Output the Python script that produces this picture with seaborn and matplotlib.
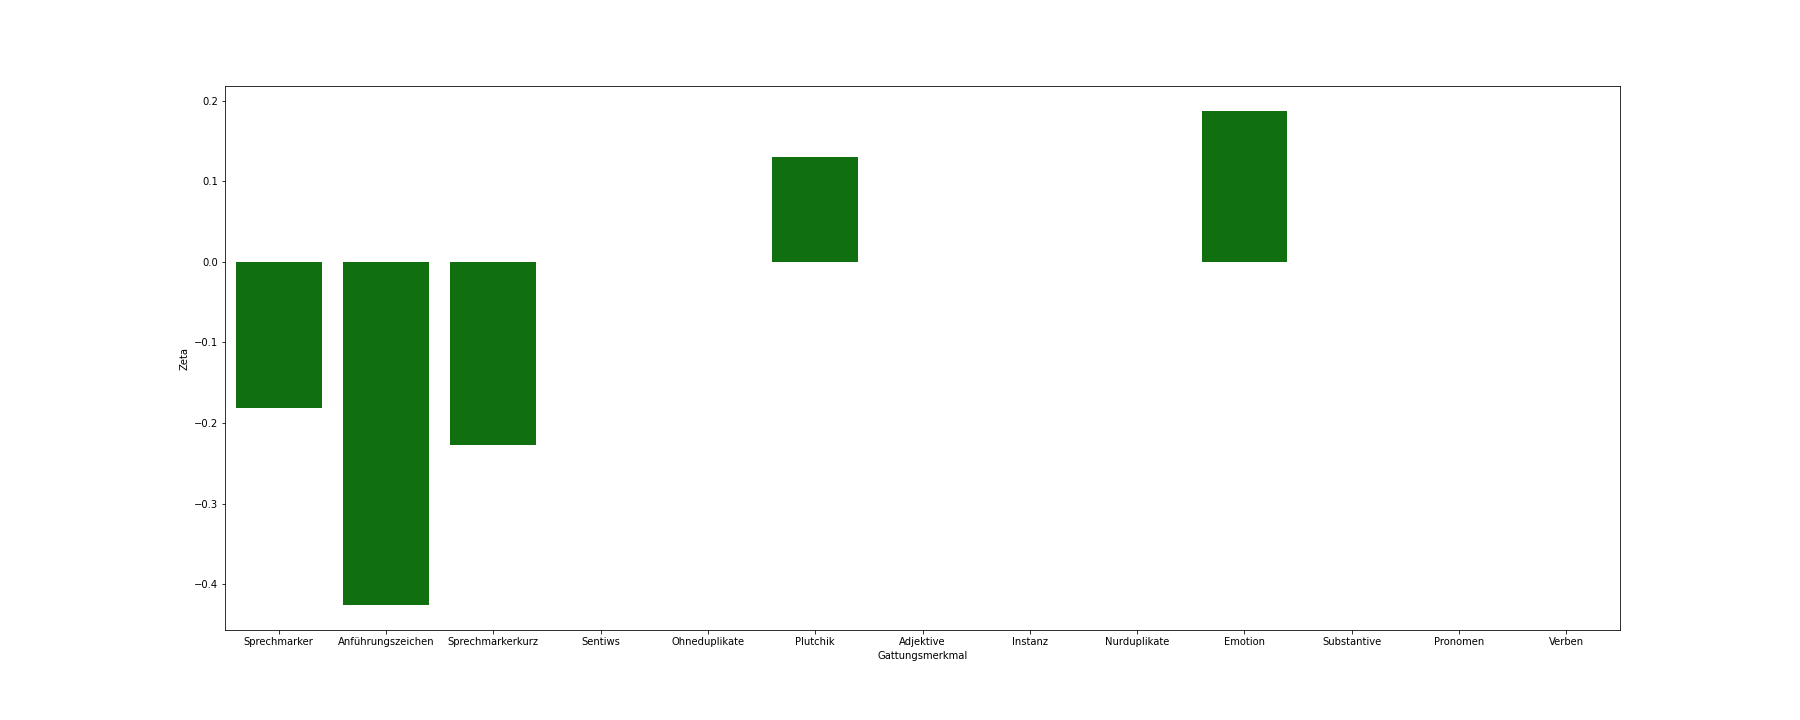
import matplotlib
matplotlib.use("Agg")
from matplotlib import pyplot as plt
import seaborn as sns
import pandas as pd

# Zeta per Gattungsmerkmal
merkmale = ['Sprechmarker', 'Anführungszeichen', 'Sprechmarkerkurz', 'Sentiws',
            'Ohneduplikate', 'Plutchik', 'Adjektive', 'Instanz', 'Nurduplikate',
            'Emotion', 'Substantive', 'Pronomen', 'Verben']
zeta = [-0.181, -0.426, -0.227, 0.0, 0.0, 0.130, 0.0, 0.0, 0.0, 0.187, 0.0, 0.0, 0.0]

df = pd.DataFrame({'Gattungsmerkmal': merkmale, 'Zeta': zeta})

fig = plt.figure(figsize=(25, 10), dpi=72)
ax = fig.add_subplot(111)
sns.barplot(data=df, x='Gattungsmerkmal', y='Zeta', color='green', ax=ax)
fig.subplots_adjust(bottom=0.125, top=0.88)

plt.savefig('out.png', dpi=72)
